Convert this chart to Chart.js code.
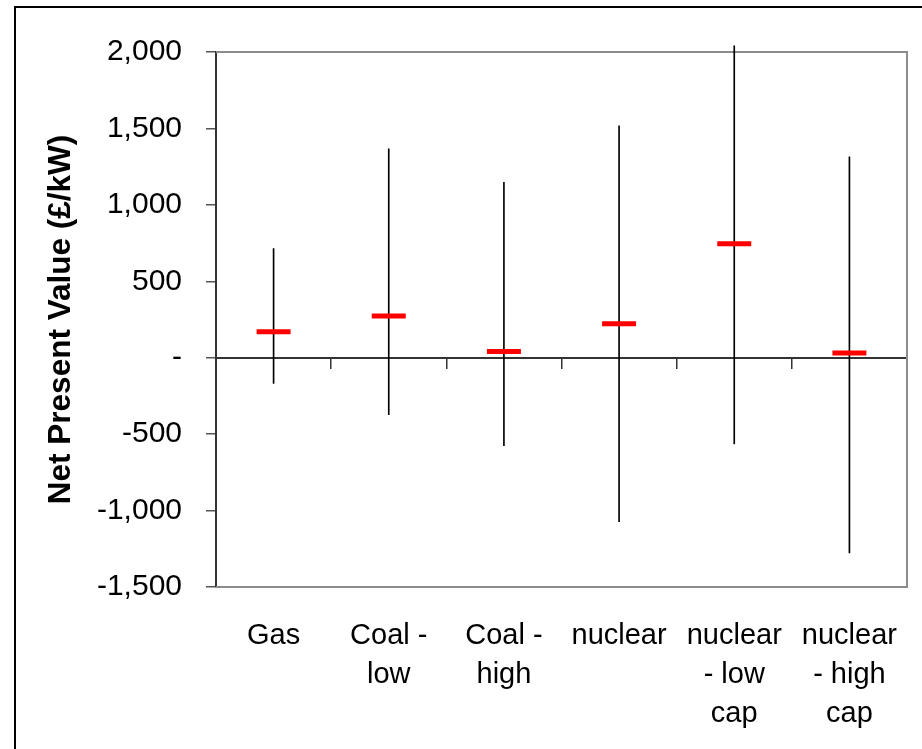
<!DOCTYPE html>
<html>
<head>
<meta charset="utf-8">
<script src="https://cdn.jsdelivr.net/npm/chart.js@4"></script>
<style>
  html, body { margin: 0; padding: 0; background: #fff; overflow: hidden; }
  #wrap { width: 922px; height: 749px; position: relative; }
</style>
</head>
<body>
<div id="wrap"><canvas id="npv" width="922" height="749"></canvas></div>
<script>
// Data

var categories = [['Gas'], ['Coal -', 'low'], ['Coal -', 'high'], ['nuclear'], ['nuclear', '- low', 'cap'], ['nuclear', '- high', 'cap']];
var lowValues = [-168, -373, -575, -1072, -564, -1277];
var highValues = [714, 1367, 1148, 1517, 2041, 1314];
var meanValues = [170, 273, 41, 223, 745, 31];
var yTicks = [-1500, -1000, -500, 0, 500, 1000, 1500, 2000];

var ranges = [];
for (var i = 0; i < categories.length; i++) {
  ranges.push([lowValues[i], highValues[i]]);
}

Chart.defaults.font.family = "'Liberation Sans', Arial, sans-serif";
Chart.defaults.color = '#000';

// Outer frame and plot area border
var framePlugin = {
  id: 'frame',
  beforeDraw: function (chart) {
    var c = chart.ctx;
    c.save();
    c.fillStyle = '#fff';
    c.fillRect(0, 0, chart.width, chart.height);
    c.strokeStyle = '#000';
    c.lineWidth = 2;
    c.beginPath();
    c.moveTo(15, chart.height);
    c.lineTo(15, 7);
    c.lineTo(chart.width, 7);
    c.stroke();
    c.restore();
  },
  beforeDatasetsDraw: function (chart) {
    var a = chart.chartArea;
    var c = chart.ctx;
    c.save();
    c.strokeStyle = '#8c8c8c';
    c.lineWidth = 2;
    c.beginPath();
    c.moveTo(a.left, a.top);
    c.lineTo(a.right, a.top);
    c.lineTo(a.right, a.bottom);
    c.lineTo(a.left, a.bottom);
    c.stroke();
    c.restore();
  }
};

const ctx = document.getElementById('npv');
const npvChart = new Chart(ctx, {
  data: {
    labels: categories,
    datasets: [{
      type: 'line',
      label: 'Mean',
      data: meanValues,
      showLine: false,
      pointStyle: 'line',
      pointRadius: 17,
      pointBorderWidth: 5,
      borderColor: '#ff0000',
      backgroundColor: '#ff0000',
      order: 0
    }, {
      type: 'bar',
      label: 'Range',
      data: ranges,
      backgroundColor: '#000',
      borderWidth: 0,
      barThickness: 1,
      clip: false,
      order: 1
    }]
  },
  options: {
    responsive: false,
    animation: false,
    layout: {
      autoPadding: false,
      padding: { left: 0, right: 15, top: 52, bottom: 0 }
    },
    plugins: {
      legend: { display: false },
      tooltip: { enabled: false }
    },
    scales: {
      x: {
        type: 'category',
        offset: true,
        grid: { display: false },
        border: { display: false },
        ticks: {
          autoSkip: false,
          maxRotation: 0,
          padding: 21,
          font: { size: 29, lineHeight: 1.345 }
        },
        afterFit: function (s) {
          s.height = 162;
          s.paddingLeft = 0;
          s.paddingRight = 0;
        }
      },
      x0: {
        type: 'category',
        axis: 'x',
        position: { y: 0 },
        offset: true,
        grid: {
          drawOnChartArea: false,
          offset: true,
          tickLength: 10,
          color: '#333',
          lineWidth: 1.5
        },
        border: { color: '#333', width: 2 },
        ticks: { display: false }
      },
      y: {
        min: -1500,
        max: 2000,
        afterBuildTicks: function (s) {
          s.ticks = yTicks.map(function (v) { return { value: v }; });
        },
        grid: {
          drawOnChartArea: false,
          tickLength: 10,
          color: '#555',
          lineWidth: 1.5
        },
        border: { color: '#333', width: 2 },
        ticks: {
          padding: 24,
          font: { size: 30 },
          callback: function (v) {
            return v === 0 ? '-' : v.toLocaleString('en-US');
          }
        },
        title: {
          display: true,
          text: 'Net Present Value (£/kW)',
          font: { size: 31.5, weight: 'bold' },
          padding: { top: 42, bottom: 0 }
        },
        afterFit: function (s) { s.width = 216; }
      }
    }
  },
  plugins: [framePlugin]
});
</script>
</body>
</html>
